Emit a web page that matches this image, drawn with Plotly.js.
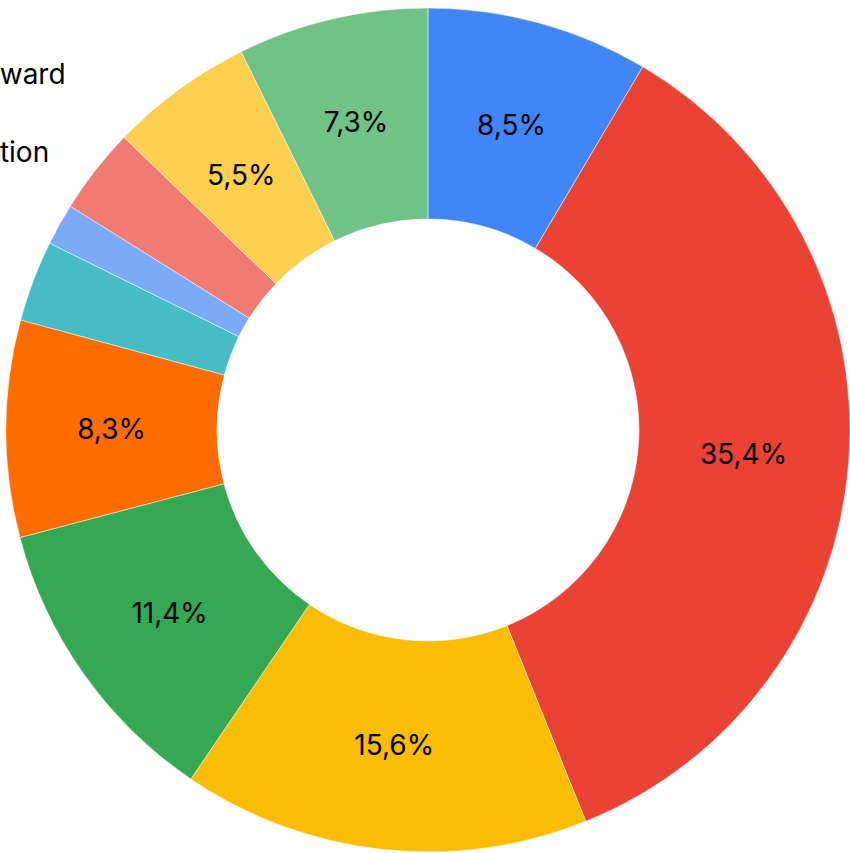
<!DOCTYPE html>
<html>
<head>
<meta charset="utf-8">
<script src="https://cdn.plot.ly/plotly-3.0.1.min.js"></script>
<style>html,body{margin:0;padding:0;background:#fff;}#chart{width:850px;height:853px;}</style>
</head>
<body>
<div id="chart"></div>
<script>
// Data
var categories = ["Salary", "Performance Reward", "Bonus", "Employee Retention", "Overtime", "Allowance", "Benefits", "Commission", "Tips", "Other"];
var shares = [8.5, 35.4, 15.6, 11.4, 8.3, 3.1, 1.6, 3.3, 5.5, 7.3];
var sliceColors = ["#4285F4", "#EA4335", "#FBBC04", "#34A853", "#FF6D01", "#46BDC6", "#7BAAF7", "#F07B72", "#FCD04F", "#71C287"];

// Labels are shown only on slices wide enough to hold them
var labelTemplates = shares.map(function (v) { return v >= 5 ? "%{percent:.1%}" : ""; });

var FONT = "Inter, Roboto, sans-serif";

// The coloured donut
var donut = {
  type: "pie",
  labels: categories,
  values: shares,
  sort: false,
  direction: "clockwise",
  rotation: 0,
  hole: 0.5,
  marker: { colors: sliceColors, line: { color: "#ffffff", width: 0.5 } },
  textinfo: "none",
  hoverinfo: "none",
  domain: { x: [0.00706, 1.0], y: [0.0012, 0.9906] }
};

// Same slices, transparent, on a thinner concentric ring so that the
// percentage labels sit in the middle of the coloured ring
var labelRing = {
  type: "pie",
  labels: categories,
  values: shares,
  sort: false,
  direction: "clockwise",
  rotation: 0,
  hole: 0.72,
  showlegend: false,
  marker: { colors: sliceColors.map(function () { return "rgba(0,0,0,0)"; }), line: { width: 0 } },
  texttemplate: labelTemplates,
  textposition: "inside",
  insidetextorientation: "horizontal",
  textfont: { family: FONT, size: 28, color: "#000000" },
  hoverinfo: "none",
  domain: { x: [0.070588, 0.936471], y: [0.064478, 0.927315] }
};

var layout = {
  width: 850,
  height: 853,
  margin: { l: 0, r: 0, t: 0, b: 0, autoexpand: false },
  paper_bgcolor: "#ffffff",
  separators: ",.",
  showlegend: true,
  legend: {
    x: 0.0835, xanchor: "right",
    y: 0.99, yanchor: "top",
    orientation: "v",
    font: { family: FONT, size: 28, color: "#000000" },
    bgcolor: "rgba(0,0,0,0)"
  }
};

Plotly.newPlot("chart", [donut, labelRing], layout, { staticPlot: true, displayModeBar: false });
</script>
</body>
</html>
